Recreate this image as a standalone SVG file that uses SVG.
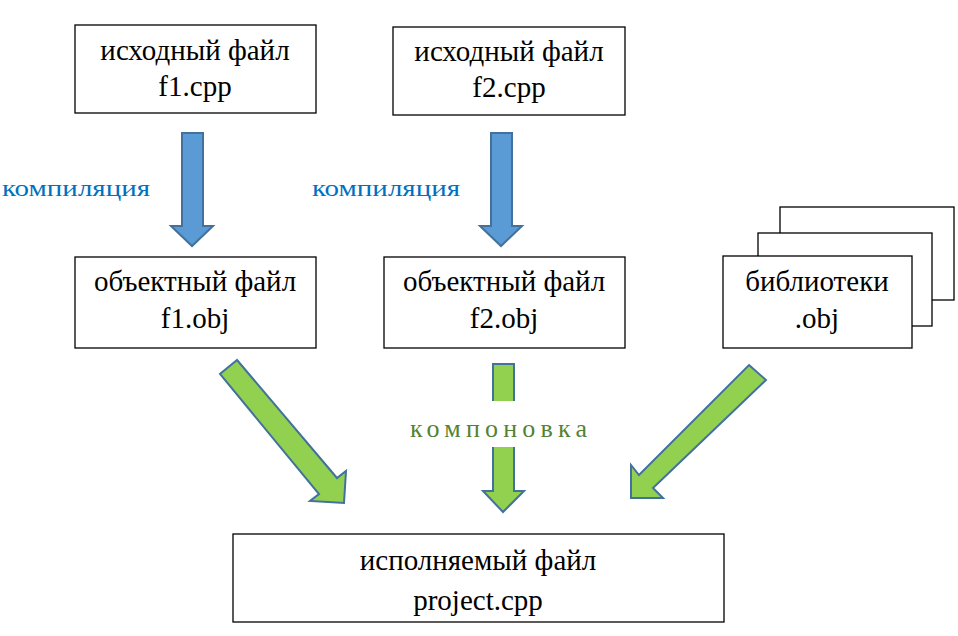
<svg xmlns="http://www.w3.org/2000/svg" width="958" height="636" viewBox="0 0 958 636">
<style>
.box{fill:#fff;stroke:#000;stroke-width:1.3}
.t{font-size:29px;fill:#000;text-anchor:middle}
.blue{fill:#5B9BD5;stroke:#41719C;stroke-width:2}
.green{fill:#92D050;stroke:#41719C;stroke-width:2}
.lblb{font-size:23px;fill:#0070C0}
.lblg{font-size:26px;fill:#548235}
</style>
<rect width="958" height="636" fill="#fff"/>
<g font-family="Liberation Serif, DejaVu Serif, Times New Roman, serif">
<g id="connectors">
  <polygon class="blue" points="182,133 203,133 203,226 213,226 192,246 171,226 182,226"/>
  <polygon class="blue" points="491,133 512,133 512,226 522,226 501,246 480,226 491,226"/>
  <polygon class="green" points="237,360 220,374 319,494 310,501 344,503 346,471 337,478"/>
  <polygon class="green" points="493,364 514,364 514,491 524,491 503,512 483,491 493,491"/>
  <rect x="400" y="401" width="195" height="46" fill="#fff"/>
  <polygon class="green" points="749,365 766,380 653,488 663,498 631,498 631,465 639,475"/>
  <text class="lblb" x="2" y="196" textLength="148" lengthAdjust="spacingAndGlyphs">компиляция</text>
  <text class="lblb" x="312" y="196" textLength="148" lengthAdjust="spacingAndGlyphs">компиляция</text>
  <text class="lblg" x="410" y="437" textLength="177" lengthAdjust="spacing">компоновка</text>
</g>
<g id="src1">
  <rect class="box" x="75" y="25" width="241" height="88"/>
  <text class="t" x="195" y="60">исходный файл</text>
  <text class="t" x="195" y="96">f1.cpp</text>
</g>
<g id="src2">
  <rect class="box" x="393" y="27" width="232" height="88"/>
  <text class="t" x="509" y="61">исходный файл</text>
  <text class="t" x="509" y="97">f2.cpp</text>
</g>
<g id="obj1">
  <rect class="box" x="75" y="257" width="241" height="91"/>
  <text class="t" x="195" y="291">объектный файл</text>
  <text class="t" x="195" y="328">f1.obj</text>
</g>
<g id="obj2">
  <rect class="box" x="384" y="257" width="241" height="91"/>
  <text class="t" x="504" y="291">объектный файл</text>
  <text class="t" x="504" y="328">f2.obj</text>
</g>
<g id="libs">
  <rect class="box" x="780" y="207" width="174" height="93"/>
  <rect class="box" x="758" y="233" width="174" height="93"/>
  <rect class="box" x="723" y="256" width="189" height="92"/>
  <text class="t" x="817" y="291">библиотеки</text>
  <text class="t" x="817" y="328">.obj</text>
</g>
<g id="exe">
  <rect class="box" x="233" y="534" width="491" height="88"/>
  <text class="t" x="478" y="570">исполняемый файл</text>
  <text class="t" x="478" y="610">project.cpp</text>
</g>
</g>
</svg>
